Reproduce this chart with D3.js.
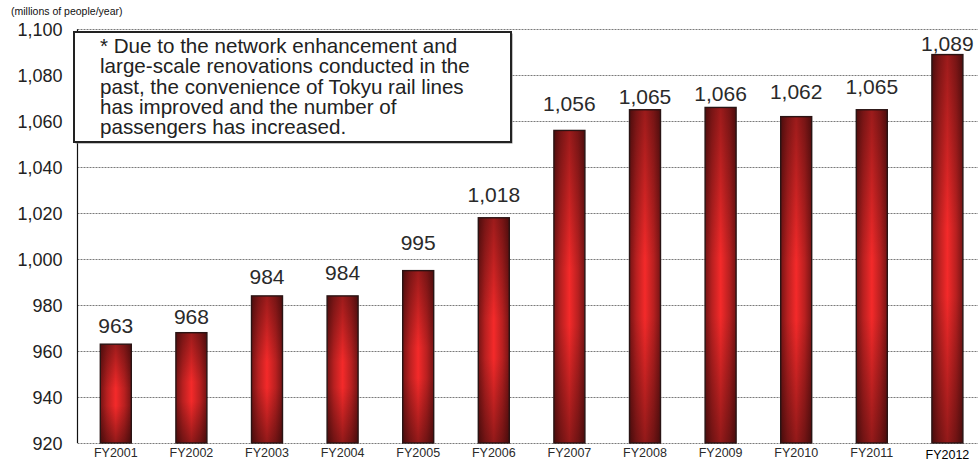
<!DOCTYPE html>
<html>
<head>
<meta charset="utf-8">
<script src="https://cdn.jsdelivr.net/npm/d3@7"></script>
<style>
  html, body { margin: 0; padding: 0; background: #fff; }
  svg { display: block; font-family: "Liberation Sans", Arial, sans-serif; }
</style>
</head>
<body>
<svg id="chart" width="978" height="461"></svg>
<script>
// Tokyu rail lines: annual passengers (millions of people/year)
const years = ["FY2001", "FY2002", "FY2003", "FY2004", "FY2005", "FY2006",
               "FY2007", "FY2008", "FY2009", "FY2010", "FY2011", "FY2012"];
const passengers = [963, 968, 984, 984, 995, 1018, 1056, 1065, 1066, 1062, 1065, 1089];
const yTicks = [920, 940, 960, 980, 1000, 1020, 1040, 1060, 1080, 1100];
const unitLabel = "(millions of people/year)";
const noteLines = [
  "* Due to the network enhancement and",
  "large-scale renovations conducted in the",
  "past, the convenience of Tokyu rail lines",
  "has improved and the number of",
  "passengers has increased."
];
// how far each value label sits above its bar (px)
const labelLift = [11, 9, 12, 16, 21, 16, 19, 6, 6, 18, 16, 4];

const svg = d3.select("#chart");
const W = 978;
const plotLeft = 77.5, plotTop = 29.3, plotBottom = 443;

const x = d3.scaleBand()
  .domain(years)
  .range([78, 78 + 12 * 75.6])
  .paddingInner(0.59)
  .paddingOuter(0.295);

const y = d3.scaleLinear()
  .domain([920, 1100])
  .range([plotBottom, plotTop]);

// gradients for the cylinder-like bars
const defs = svg.append("defs");
const hGrad = defs.append("linearGradient").attr("id", "barH")
  .attr("x1", 0).attr("x2", 1).attr("y1", 0).attr("y2", 0);
[[0, "#761414"], [0.22, "#b82020"], [0.5, "#f42a2a"], [0.78, "#b82020"], [1, "#761414"]]
  .forEach(([o, c]) => hGrad.append("stop").attr("offset", o).attr("stop-color", c));
const vGrad = defs.append("linearGradient").attr("id", "barV")
  .attr("x1", 0).attr("x2", 0).attr("y1", 0).attr("y2", 1);
[[0, 0.36], [0.45, 0], [0.62, 0], [1, 0.4]]
  .forEach(([o, a]) => vGrad.append("stop").attr("offset", o)
    .attr("stop-color", "#000").attr("stop-opacity", a));

// gridlines
svg.append("g")
  .selectAll("line")
  .data(yTicks)
  .join("line")
  .attr("x1", plotLeft).attr("x2", W)
  .attr("y1", d => Math.round(y(d)) + 0.5).attr("y2", d => Math.round(y(d)) + 0.5)
  .attr("stroke", "#7a7a7a")
  .attr("stroke-width", 1)
  .attr("stroke-dasharray", "2,1");

// y axis
const yAxis = d3.axisLeft(y)
  .tickValues(yTicks)
  .tickFormat(d3.format(","))
  .tickSize(0)
  .tickPadding(15);
const gy = svg.append("g")
  .attr("transform", `translate(${plotLeft},0)`)
  .call(yAxis);
gy.select(".domain").remove();
gy.selectAll("text")
  .attr("font-size", 18)
  .attr("font-family", "Liberation Sans, Arial, sans-serif")
  .attr("fill", "#222")
  .attr("dy", "0.36em");
svg.append("line")
  .attr("x1", plotLeft).attr("x2", plotLeft)
  .attr("y1", plotTop).attr("y2", plotBottom)
  .attr("stroke", "#111").attr("stroke-width", 1.2);

// bars
const bars = svg.append("g");
bars.selectAll("rect.base")
  .data(passengers)
  .join("rect")
  .attr("class", "base")
  .attr("x", (d, i) => x(years[i]))
  .attr("y", d => y(d))
  .attr("width", x.bandwidth())
  .attr("height", d => plotBottom - y(d))
  .attr("fill", "url(#barH)");
bars.selectAll("rect.shade")
  .data(passengers)
  .join("rect")
  .attr("class", "shade")
  .attr("x", (d, i) => x(years[i]))
  .attr("y", d => y(d))
  .attr("width", x.bandwidth())
  .attr("height", d => plotBottom - y(d))
  .attr("fill", "url(#barV)")
  .attr("stroke", "#2a1414")
  .attr("stroke-width", 1.4);

// value labels
svg.append("g")
  .selectAll("text")
  .data(passengers)
  .join("text")
  .attr("x", (d, i) => x(years[i]) + x.bandwidth() / 2)
  .attr("y", (d, i) => y(d) - labelLift[i])
  .attr("text-anchor", "middle")
  .attr("font-size", 21)
  .attr("fill", "#2a2a2a")
  .text(d => d3.format(",")(d));

// category labels
svg.append("g")
  .selectAll("text")
  .data(years)
  .join("text")
  .attr("x", d => x(d) + x.bandwidth() / 2)
  .attr("y", (d, i) => i === years.length - 1 ? 459.3 : 456.6)
  .attr("text-anchor", "middle")
  .attr("font-size", 12.5)
  .attr("fill", (d, i) => i === years.length - 1 ? "#000" : "#2a2a2a")
  .text(d => d);

// unit label
svg.append("text")
  .attr("x", 11).attr("y", 14.5)
  .attr("font-size", 10.5)
  .attr("fill", "#111")
  .text(unitLabel);

// note box
const note = svg.append("g");
note.append("rect")
  .attr("x", 75.5).attr("y", 33.5)
  .attr("width", 437).attr("height", 110)
  .attr("fill", "#888");
note.append("rect")
  .attr("x", 74).attr("y", 32)
  .attr("width", 437).attr("height", 110)
  .attr("fill", "#fff")
  .attr("stroke", "#222")
  .attr("stroke-width", 2);
note.append("text")
  .attr("font-size", 20.6)
  .attr("fill", "#222")
  .selectAll("tspan")
  .data(noteLines)
  .join("tspan")
  .attr("x", 100)
  .attr("y", (d, i) => 53 + i * 20.3)
  .text(d => d);
</script>
</body>
</html>
